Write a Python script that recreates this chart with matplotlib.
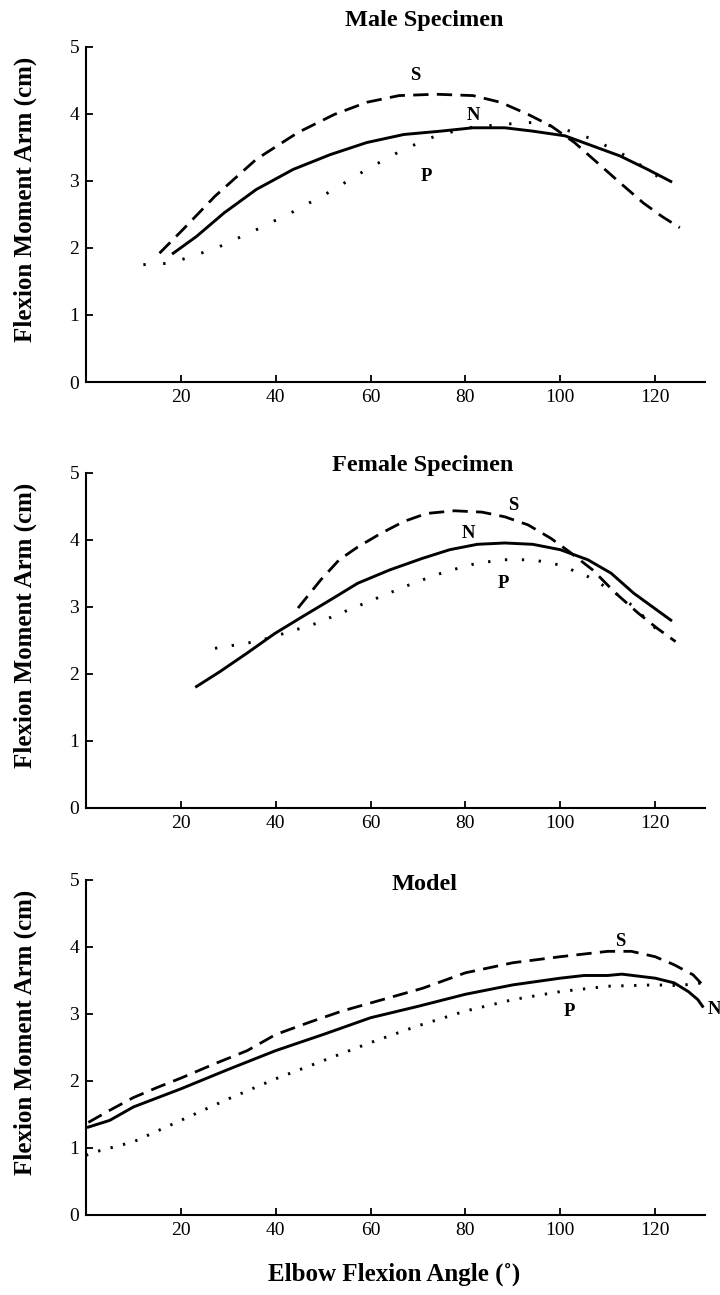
import numpy as np
import matplotlib
matplotlib.use('Agg')
import matplotlib.pyplot as plt

plt.rcParams['font.family'] = ['Liberation Serif', 'DejaVu Serif']

# Male specimen
male_s_x = [15.5, 20.4, 27.2, 35.9, 44.7, 52.4, 59.2, 66.0, 73.8, 81.6, 87.4, 93.2, 98.0, 103.0, 107.8, 112.6, 117.5, 121.4, 125.2]
male_s_y = [1.92, 2.27, 2.77, 3.32, 3.72, 3.99, 4.17, 4.27, 4.29, 4.27, 4.17, 3.99, 3.82, 3.57, 3.27, 2.97, 2.67, 2.47, 2.30]
male_n_x = [18.4, 23.3, 29.1, 35.9, 43.7, 51.5, 59.2, 67.0, 74.8, 81.6, 88.3, 94.2, 101.0, 106.8, 112.6, 118.4, 123.3]
male_n_y = [1.92, 2.17, 2.52, 2.87, 3.17, 3.39, 3.57, 3.69, 3.74, 3.79, 3.79, 3.74, 3.67, 3.52, 3.37, 3.17, 2.99]
male_p_x = [12.1, 17.5, 22.3, 28.2, 35.9, 43.7, 51.5, 59.2, 67.0, 73.8, 80.6, 87.4, 94.2, 100.0, 106.8, 112.6, 118.4, 121.4]
male_p_y = [1.75, 1.77, 1.87, 2.02, 2.27, 2.54, 2.84, 3.17, 3.47, 3.67, 3.79, 3.84, 3.87, 3.79, 3.62, 3.42, 3.17, 3.02]

# Female specimen
fem_s_x = [44.7, 49.5, 53.4, 57.3, 62.1, 67.0, 71.8, 77.7, 83.5, 88.3, 93.2, 98.0, 101.9, 106.8, 111.7, 116.5, 120.4, 124.3]
fem_s_y = [2.98, 3.40, 3.70, 3.89, 4.09, 4.27, 4.39, 4.43, 4.41, 4.34, 4.22, 4.02, 3.82, 3.55, 3.20, 2.90, 2.68, 2.48]
fem_n_x = [23.3, 28.2, 34.0, 39.8, 45.6, 51.5, 57.3, 64.1, 70.9, 76.7, 82.5, 88.3, 94.2, 100.0, 105.8, 110.7, 115.5, 119.4, 123.3]
fem_n_y = [1.81, 2.03, 2.31, 2.60, 2.85, 3.10, 3.35, 3.55, 3.72, 3.85, 3.93, 3.95, 3.93, 3.85, 3.70, 3.50, 3.20, 3.00, 2.80]
fem_p_x = [27.2, 35.9, 41.7, 48.5, 55.3, 62.1, 69.0, 75.7, 82.5, 88.3, 94.2, 100.0, 105.8, 110.7, 114.6, 118.4, 121.4]
fem_p_y = [2.38, 2.48, 2.60, 2.75, 2.95, 3.15, 3.35, 3.52, 3.65, 3.70, 3.70, 3.62, 3.45, 3.25, 3.05, 2.80, 2.58]

# Model
mod_s_x = [0.5, 5, 10, 15, 20, 27, 34, 40, 47, 54, 60, 65, 71, 80, 90, 100, 110, 115, 120, 124, 128, 130]
mod_s_y = [1.38, 1.56, 1.75, 1.90, 2.04, 2.25, 2.45, 2.69, 2.87, 3.04, 3.16, 3.26, 3.38, 3.61, 3.76, 3.85, 3.93, 3.93, 3.85, 3.73, 3.58, 3.43]
mod_n_x = [0.5, 5, 10, 20, 30, 40, 50, 60, 70, 80, 90, 100, 105, 110, 113, 120, 124, 127, 129, 130]
mod_n_y = [1.31, 1.41, 1.61, 1.88, 2.17, 2.45, 2.69, 2.94, 3.11, 3.29, 3.43, 3.53, 3.57, 3.57, 3.59, 3.53, 3.46, 3.33, 3.21, 3.11]
mod_p_x = [0, 3, 10, 20, 30, 40, 50, 60, 70, 80, 90, 100, 110, 120, 125, 130]
mod_p_y = [0.89, 0.96, 1.09, 1.41, 1.73, 2.03, 2.30, 2.57, 2.82, 3.04, 3.21, 3.33, 3.41, 3.43, 3.42, 3.46]

titles = ['Male Specimen', 'Female Specimen', 'Model']
title_pos = [(71.3, 5.39), (70.9, 5.10), (71.3, 4.93)]
curve_labels = [
    [('S', 69.4, 4.57), ('N', 81.6, 3.97), ('P', 71.8, 3.07)],
    [('S', 90.1, 4.51), ('N', 80.6, 4.09), ('P', 87.9, 3.35)],
    [('S', 112.6, 4.08), ('P', 102.0, 3.04), ('N', 132.5, 3.07)],
]
data = [
    (male_s_x, male_s_y, male_n_x, male_n_y, male_p_x, male_p_y),
    (fem_s_x, fem_s_y, fem_n_x, fem_n_y, fem_p_x, fem_p_y),
    (mod_s_x, mod_s_y, mod_n_x, mod_n_y, mod_p_x, mod_p_y),
]

fig = plt.figure(figsize=(7.2, 12.95), dpi=100)
bottoms = [0.7050, 0.3761, 0.0618]
dot_gap = [6.0, 5.0, 3.6]

for i in range(3):
    ax = fig.add_axes([0.1194, bottoms[i], 0.8597, 0.259])
    sx, sy, nx, ny, px, py = data[i]
    ax.plot(sx, sy, color='black', lw=2.0, ls=(0, (5.5, 3)))
    ax.plot(nx, ny, color='black', lw=2.1, ls='-')
    ax.plot(px, py, color='black', lw=2.1, ls=(0, (0.8, dot_gap[i])))

    ax.set_xlim(0, 130.5)
    ax.set_ylim(0, 5)
    ax.set_xticks([20, 40, 60, 80, 100, 120])
    ax.set_yticks([0, 1, 2, 3, 4, 5])
    ax.spines['top'].set_visible(False)
    ax.spines['right'].set_visible(False)
    for sp in ['left', 'bottom']:
        ax.spines[sp].set_linewidth(1.5)
    ax.tick_params(direction='in', length=5, width=1.3, labelsize=14, pad=5)

    ax.set_ylabel('Flexion Moment Arm (cm)', fontsize=18, fontweight='bold')
    ax.yaxis.set_label_coords(-0.079, 0.545)

    ax.text(title_pos[i][0], title_pos[i][1], titles[i], fontsize=17.5,
            fontweight='bold', ha='center', va='center', clip_on=False)
    for lab, lx, ly in curve_labels[i]:
        ax.text(lx, ly, lab, fontsize=13.5, fontweight='bold',
                ha='center', va='center', clip_on=False)

fig.text(0.548, 0.0162, 'Elbow Flexion Angle (\u02da)', fontsize=18,
         fontweight='bold', ha='center', va='center')

fig.savefig('out.png', dpi=100)
